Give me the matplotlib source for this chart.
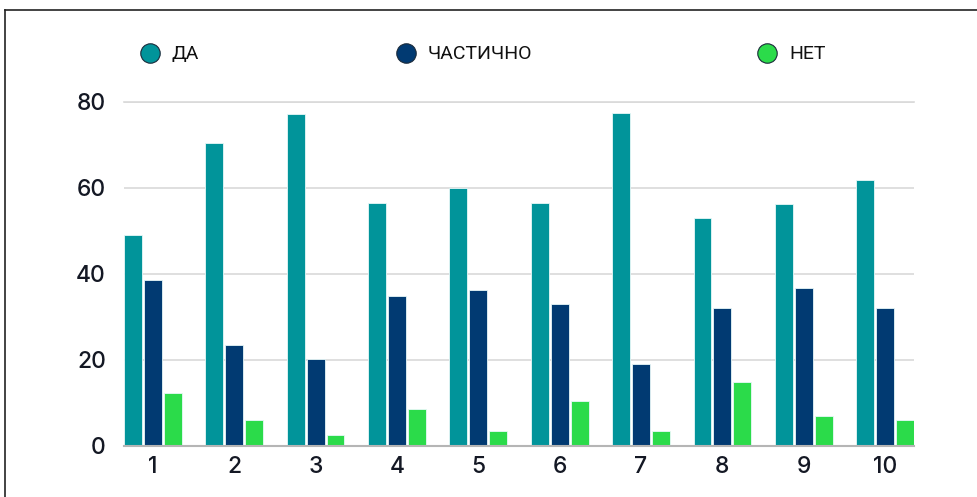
import matplotlib
matplotlib.use('Agg')
import matplotlib.pyplot as plt
from matplotlib.lines import Line2D
import numpy as np

# Data
groups = ['1', '2', '3', '4', '5', '6', '7', '8', '9', '10']
series_names = ['ДА', 'ЧАСТИЧНО', 'НЕТ']
da = [49.1, 70.5, 77.2, 56.5, 60.0, 56.5, 77.4, 53.0, 56.3, 61.9]
chastichno = [38.6, 23.5, 20.2, 34.9, 36.3, 33.0, 19.1, 32.1, 36.7, 32.1]
net = [12.3, 6.0, 2.6, 8.6, 3.5, 10.5, 3.5, 14.9, 7.0, 6.0]
colors = ['#01949A', '#013A72', '#2BDB4A']

plt.rcParams['font.family'] = ['Inter', 'DejaVu Sans']

fig = plt.figure(figsize=(9.78, 4.97), dpi=100)
ax = fig.add_axes([124 / 978, 1 - 446 / 497, 790 / 978, 344 / 497])

x = np.arange(1, len(groups) + 1)
w = 0.22
offs = [-0.245, 0, 0.245]
for vals, off, c in zip([da, chastichno, net], offs, colors):
    ax.bar(x + off, vals, width=w, color=c, edgecolor='#e8f8f8', linewidth=0.6, zorder=3)

ax.set_xlim(1 - 0.245 - w / 2, 10 + 0.245 + w / 2)
ax.set_ylim(0, 80)
ax.set_yticks([0, 20, 40, 60, 80])
ax.set_xticks(x)
ax.set_xticklabels(groups)
ax.tick_params(axis='both', length=0, labelsize=16.5, colors='#141824')
ax.tick_params(axis='y', pad=13)
ax.tick_params(axis='x', pad=7)
for lab in ax.get_xticklabels() + ax.get_yticklabels():
    lab.set_fontweight('medium')
ax.grid(axis='y', color='#d9d9d9', linewidth=1.2, zorder=0)
for s in ['top', 'right', 'left']:
    ax.spines[s].set_visible(False)
ax.spines['bottom'].set_color('#b5b5b5')
ax.spines['bottom'].set_linewidth(1.5)
ax.spines['bottom'].set_zorder(4)
ax.axhline(80, color='#d9d9d9', linewidth=1.2, clip_on=False, zorder=0)

# legend as positioned markers
leg_x = [150, 406, 767]
for lx, name, c in zip(leg_x, series_names, colors):
    fig.add_artist(Line2D([lx / 978], [1 - 53 / 497], marker='o', markersize=14,
                          markerfacecolor=c, markeredgecolor='#1a2a3a',
                          markeredgewidth=0.8, linestyle='none'))
    fig.text((lx + 22) / 978, 1 - 54 / 497, name, fontsize=14, va='center',
             ha='left', color='#111111', family=['Liberation Sans Narrow', 'Roboto', 'DejaVu Sans'])

# frame lines (screenshot border)
fig.add_artist(Line2D([5 / 978, 1], [1 - 10 / 497, 1 - 10 / 497], color='#222222', linewidth=1.2))
fig.add_artist(Line2D([5 / 978, 5 / 978], [0, 1 - 10 / 497], color='#222222', linewidth=1.2))

plt.savefig('out.png', dpi=100)
plt.close('all')
